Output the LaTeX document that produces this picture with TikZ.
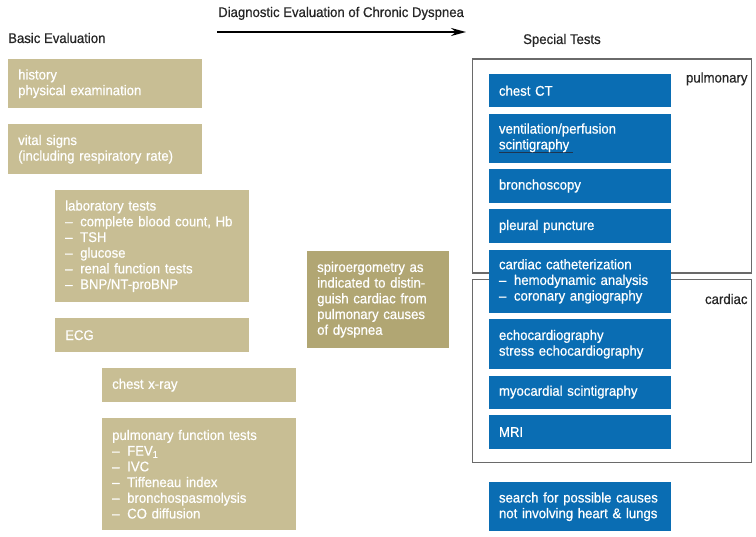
\documentclass[tikz,border=0pt]{standalone}
\usepackage{fontspec}
\setmainfont{Liberation Sans}[FakeStretch=0.94, FakeBold=0.6]
\usetikzlibrary{positioning,arrows.meta}
\definecolor{basictan}{HTML}{C8BE94}
\definecolor{spirotan}{HTML}{B1A673}
\definecolor{testblue}{HTML}{0A6DB3}
\definecolor{framegray}{HTML}{6A6A6A}
\definecolor{ulinedark}{HTML}{1E3550}
\newcommand{\dashitem}{\makebox[15pt][l]{\textendash}}

\begin{document}
\begin{tikzpicture}[x=1pt, y=-1pt, every node/.style={font=\fontsize{14}{15.7}\selectfont, inner sep=0pt},
  basic/.style={fill=basictan, text=white, anchor=north west, text width=174pt, inner xsep=10pt, align=left},
  spiro/.style={fill=spirotan, text=white, anchor=north west, text width=122pt, inner xsep=10pt, align=left},
  special/.style={fill=testblue, text=white, anchor=north, text width=162pt, inner xsep=10pt, align=left},
  framebox/.style={draw=framegray, line width=1.2pt, anchor=north west},
  heading/.style={text=black!85}]
  \useasboundingbox (0,0) rectangle (756,537);

  % headings and the arrow
  \node[heading, anchor=base west] (title) at (218,17) {Diagnostic Evaluation of Chronic Dyspnea};
  \coordinate (arrstart) at (217,32);
  \coordinate (arrend) at (466,32);
  \draw[line width=2pt, -{Stealth[length=15pt, width=8pt]}] (arrstart) -- (arrend);
  \node[heading, anchor=base west] (basichead) at (8,43) {Basic Evaluation};
  \node[heading, anchor=base west] (specialhead) at (523,44) {Special Tests};

  % basic evaluation
  \node[basic, minimum height=49pt] (history) at (8,59) {history\\physical examination};
  \node[basic, minimum height=50pt] (vital) at (8,124) {vital signs\\(including respiratory rate)};
  \node[basic, minimum height=112pt] (lab) at (55,190) {laboratory tests\\
    \dashitem complete blood count, Hb\\\dashitem TSH\\\dashitem glucose\\
    \dashitem renal function tests\\\dashitem BNP/NT-proBNP};
  \node[basic, minimum height=34pt] (ecg) at (55,318) {ECG};
  \node[basic, minimum height=34pt] (xray) at (102,368) {chest x-ray};
  \node[basic, minimum height=112pt] (pft) at (102,418) {pulmonary function tests\\
    \dashitem FEV\textsubscript{1}\\\dashitem IVC\\\dashitem Tiffeneau index\\
    \dashitem bronchospasmolysis\\\dashitem CO diffusion};
  \node[spiro, minimum height=97pt] (spiroerg) at (307,251) {spiroergometry as\\indicated to distin-\\guish cardiac from\\pulmonary causes\\of dyspnea};

  % special tests
  \node[framebox, minimum width=279pt, minimum height=214pt] (pulmframe) at (471.5,58.5) {};
  \node[framebox, minimum width=279pt, minimum height=183pt] (cardframe) at (471.5,279) {};
  \node[heading, anchor=base east] (pulmlabel) at ([xshift=-4pt, yshift=-24pt]pulmframe.north east) {pulmonary};
  \node[heading, anchor=base east] (cardlabel) at ([xshift=-4pt, yshift=-25pt]cardframe.north east) {cardiac};

  \node[special, minimum height=33pt] (chestct) at (580,74) {chest CT};
  \node[special, minimum height=49pt, below=6pt of chestct] (vq) {ventilation/perfusion\\\makebox[0pt][l]{\color{ulinedark}\rule[-3.5pt]{74pt}{1.2pt}}scintigraphy};
  \node[special, minimum height=34pt, below=6pt of vq] (broncho) {bronchoscopy};
  \node[special, minimum height=34pt, below=6pt of broncho] (pleura) {pleural puncture};
  \node[special, minimum height=63pt, below=6pt of pleura] (cath) {cardiac catheterization\\
    \dashitem hemodynamic analysis\\\dashitem coronary angiography};
  \node[special, minimum height=50pt, below=6pt of cath] (echo) {echocardiography\\stress echocardiography};
  \node[special, minimum height=33pt, below=6pt of echo] (myo) {myocardial scintigraphy};
  \node[special, minimum height=34pt, below=6pt of myo] (mri) {MRI};
  \node[special, minimum height=49pt] (search) at (580,482) {search for possible causes\\not involving heart \& lungs};
\end{tikzpicture}
\end{document}
